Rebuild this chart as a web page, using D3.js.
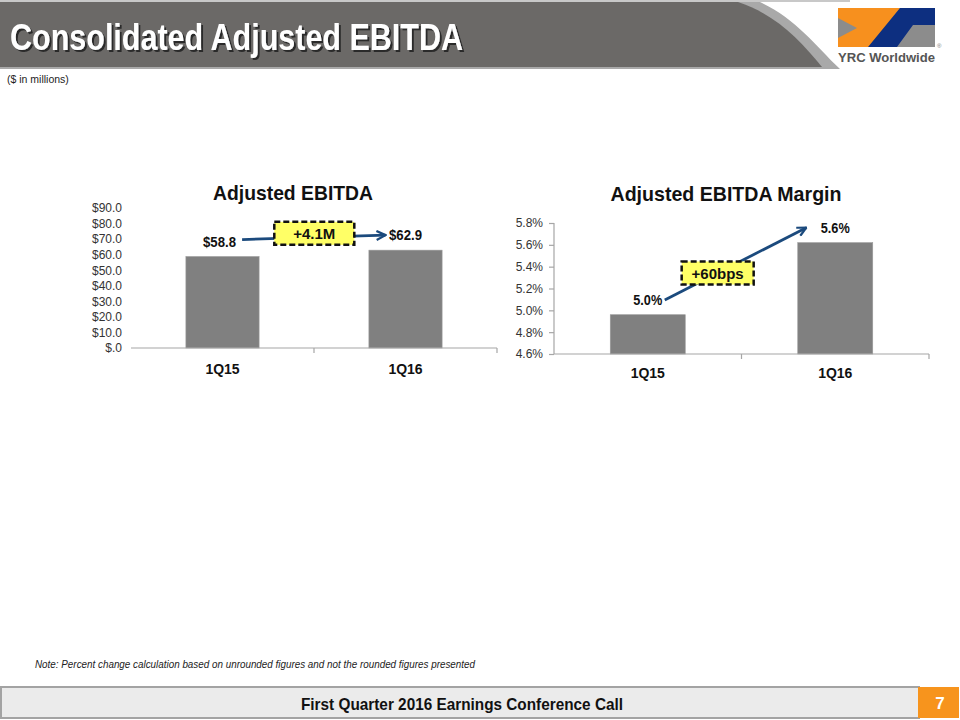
<!DOCTYPE html>
<html><head><meta charset="utf-8">
<script src="https://cdn.jsdelivr.net/npm/d3@7"></script>
<style>
html,body{margin:0;padding:0;background:#fff;}
svg{display:block;font-family:Arial,"Liberation Sans",sans-serif;}
</style></head>
<body>
<svg id="c" width="960" height="720"></svg>
<script>
// ---- data ----
const categories = ["1Q15", "1Q16"];
const ebitdaValues = [58.8, 62.9];
const ebitdaLabels = ["$58.8", "$62.9"];
const ebitdaTicks = [0, 10, 20, 30, 40, 50, 60, 70, 80, 90];
const ebitdaTickLabels = ["$.0", "$10.0", "$20.0", "$30.0", "$40.0", "$50.0", "$60.0", "$70.0", "$80.0", "$90.0"];
const marginValues = [4.96, 5.62];
const marginLabels = ["5.0%", "5.6%"];
const marginTicks = [4.6, 4.8, 5.0, 5.2, 5.4, 5.6, 5.8];
const marginTickLabels = ["4.6%", "4.8%", "5.0%", "5.2%", "5.4%", "5.6%", "5.8%"];
const deltaLabels = ["+4.1M", "+60bps"];
const chartTitles = ["Adjusted EBITDA", "Adjusted EBITDA Margin"];

const svg = d3.select("#c");
const navy = "#1b4a7d";
const defs = svg.append("defs");
const sh = defs.append("filter").attr("id","sh").attr("x","-5%").attr("y","-20%").attr("width","110%").attr("height","150%");
sh.append("feDropShadow").attr("dx",2).attr("dy",2).attr("stdDeviation",0.6).attr("flood-color","#2a2a2a").attr("flood-opacity",1);

// ---- header ----
svg.append("rect").attr("x",0).attr("y",0).attr("width",850).attr("height",2).attr("fill","#c8c8c8");
svg.append("path").attr("d","M0,2 H760 C795,18 815,45 840,69 H0 Z").attr("fill","#a9a9a9");
svg.append("path").attr("d","M0,2 H738 C775,14 800,40 822,67 H0 Z").attr("fill","#6b6967");
svg.append("text").attr("x",10).attr("y",50).attr("fill","#ffffff").attr("filter","url(#sh)")
  .attr("font-size",36).attr("font-weight","bold")
  .attr("textLength",453).attr("lengthAdjust","spacingAndGlyphs").text("Consolidated Adjusted EBITDA");
svg.append("text").attr("x",7).attr("y",83).attr("font-size",10.5).attr("fill","#222")
  .text("($ in millions)");

// logo
const lg = svg.append("g");
lg.append("rect").attr("x",838).attr("y",8).attr("width",97).attr("height",39).attr("fill","#8c8c8c");
lg.append("polygon").attr("points","838,8 900,8 870,47 838,47").attr("fill","#f7901e");
lg.append("polygon").attr("points","838,18 857,28 838,38").attr("fill","#8c8c8c");
lg.append("polygon").attr("points","900,8 935,8 935,25 913,25 897,47 868,47").attr("fill","#0d2f80");
lg.append("text").attr("x",838).attr("y",62).attr("font-size",13.5).attr("font-weight","bold")
  .attr("fill","#555").attr("textLength",97).attr("lengthAdjust","spacingAndGlyphs").text("YRC Worldwide");
lg.append("text").attr("x",937).attr("y",48).attr("font-size",6).attr("fill","#777").text("®");

// ---- arrow marker ----
defs.append("marker").attr("id","ah").attr("viewBox","0 0 10 10").attr("refX",9).attr("refY",5)
  .attr("markerWidth",4).attr("markerHeight",4).attr("orient","auto").attr("markerUnits","strokeWidth")
  .append("path").attr("d","M1,1 L9,5 L1,9").attr("fill","none").attr("stroke",navy).attr("stroke-width",2);

function deltaBox(g, cx, cy, w, h, label){
  g.append("rect").attr("x",cx-w/2).attr("y",cy-h/2).attr("width",w).attr("height",h)
    .attr("fill","#ffff66").attr("stroke","#111").attr("stroke-width",2.5).attr("stroke-dasharray","6,3");
  g.append("text").attr("x",cx).attr("y",cy+6).attr("text-anchor","middle")
    .attr("font-size",15).attr("font-weight","bold").attr("fill","#111").text(label);
}

// ---- left chart ----
{
  const g = svg.append("g");
  const x = d3.scaleBand().domain(categories).range([131,497]).paddingInner(0.6).paddingOuter(0.3);
  const y = d3.scaleLinear().domain([0,90]).range([348,208]);
  g.append("text").attr("x",293).attr("y",200).attr("text-anchor","middle").attr("font-size",21)
    .attr("font-weight","bold").attr("fill","#111").attr("textLength",160).attr("lengthAdjust","spacingAndGlyphs")
    .text(chartTitles[0]);
  const ya = d3.axisLeft(y).tickValues(ebitdaTicks).tickSize(0).tickPadding(6)
    .tickFormat((d,i)=>ebitdaTickLabels[i]);
  const yg = g.append("g").attr("transform","translate(128,0)").call(ya);
  yg.select(".domain").remove();
  yg.selectAll("text").attr("font-size",12).attr("fill","#333").attr("font-family","Arial,'Liberation Sans',sans-serif");
  g.selectAll(".bar").data(categories).enter().append("rect")
    .attr("x",d=>x(d)).attr("width",x.bandwidth())
    .attr("y",(d,i)=>y(ebitdaValues[i])).attr("height",(d,i)=>y(0)-y(ebitdaValues[i]))
    .attr("fill","#808080").attr("stroke","#9a9a9a").attr("stroke-width",0.6);
  const [r0,r1] = x.range();
  const mid = (x(categories[0])+x.bandwidth()+x(categories[1]))/2;
  g.append("line").attr("x1",r0).attr("x2",r1).attr("y1",y(0)).attr("y2",y(0)).attr("stroke","#a6a6a6").attr("stroke-width",1.2);
  [mid, r1].forEach(t=>g.append("line").attr("x1",t).attr("x2",t).attr("y1",y(0)).attr("y2",y(0)+5).attr("stroke","#a6a6a6").attr("stroke-width",1.2));
  g.selectAll(".cat").data(categories).enter().append("text")
    .attr("x",d=>x(d)+x.bandwidth()/2).attr("y",374).attr("text-anchor","middle")
    .attr("font-size",14).attr("font-weight","bold").attr("fill","#111").text(d=>d);
  g.selectAll(".vl").data(categories).enter().append("text")
    .attr("x",(d,i)=>x(d)+x.bandwidth()/2 - (i===0?3:0)).attr("y",(d,i)=>y(ebitdaValues[i])-10).attr("text-anchor","middle")
    .attr("font-size",14).attr("font-weight","bold").attr("fill","#111")
    .attr("textLength",33).attr("lengthAdjust","spacingAndGlyphs").text((d,i)=>ebitdaLabels[i]);
  const x1 = x(categories[0])+x.bandwidth()-17, y1 = y(ebitdaValues[0])-17;
  const x2 = x(categories[1])+x.bandwidth()/2-20, y2 = y(ebitdaValues[1])-15;
  g.append("line").attr("x1",x1).attr("y1",y1).attr("x2",x2).attr("y2",y2)
    .attr("stroke",navy).attr("stroke-width",2.8).attr("marker-end","url(#ah)");
  deltaBox(g, (x1+x2)/2+0.5, (y1+y2)/2-4, 80, 23, deltaLabels[0]);
}

// ---- right chart ----
{
  const g = svg.append("g");
  const x = d3.scaleBand().domain(categories).range([554,929]).paddingInner(0.6).paddingOuter(0.3);
  const y = d3.scaleLinear().domain([4.6,5.8]).range([354,223]);
  g.append("text").attr("x",726).attr("y",201).attr("text-anchor","middle").attr("font-size",21)
    .attr("font-weight","bold").attr("fill","#111").attr("textLength",231).attr("lengthAdjust","spacingAndGlyphs")
    .text(chartTitles[1]);
  const ya = d3.axisLeft(y).tickValues(marginTicks).tickSize(5).tickPadding(6)
    .tickFormat((d,i)=>marginTickLabels[i]);
  const yg = g.append("g").attr("transform","translate(554,0)").call(ya);
  yg.select(".domain").attr("stroke","#a6a6a6").attr("stroke-width",1.2).attr("d","M0,"+y(5.8)+"V"+y(4.6));
  yg.selectAll(".tick line").attr("stroke","#a6a6a6").attr("stroke-width",1.2);
  yg.selectAll("text").attr("font-size",12).attr("fill","#333").attr("font-family","Arial,'Liberation Sans',sans-serif");
  g.selectAll(".bar").data(categories).enter().append("rect")
    .attr("x",d=>x(d)).attr("width",x.bandwidth())
    .attr("y",(d,i)=>y(marginValues[i])).attr("height",(d,i)=>y(4.6)-y(marginValues[i]))
    .attr("fill","#808080").attr("stroke","#9a9a9a").attr("stroke-width",0.6);
  const [r0,r1] = x.range();
  const mid = (x(categories[0])+x.bandwidth()+x(categories[1]))/2;
  g.append("line").attr("x1",r0).attr("x2",r1).attr("y1",y(4.6)).attr("y2",y(4.6)).attr("stroke","#a6a6a6").attr("stroke-width",1.2);
  [mid, r1].forEach(t=>g.append("line").attr("x1",t).attr("x2",t).attr("y1",y(4.6)).attr("y2",y(4.6)+5).attr("stroke","#a6a6a6").attr("stroke-width",1.2));
  g.selectAll(".cat").data(categories).enter().append("text")
    .attr("x",d=>x(d)+x.bandwidth()/2).attr("y",378).attr("text-anchor","middle")
    .attr("font-size",14).attr("font-weight","bold").attr("fill","#111").text(d=>d);
  g.selectAll(".vl").data(categories).enter().append("text")
    .attr("x",d=>x(d)+x.bandwidth()/2).attr("y",(d,i)=>y(marginValues[i])-10).attr("text-anchor","middle")
    .attr("font-size",14).attr("font-weight","bold").attr("fill","#111")
    .attr("textLength",29).attr("lengthAdjust","spacingAndGlyphs").text((d,i)=>marginLabels[i]);
  const x1 = x(categories[0])+x.bandwidth()/2+17, y1 = y(marginValues[0])-14.6;
  const x2 = x(categories[1])+x.bandwidth()/2-29, y2 = y(marginValues[1])-15;
  g.append("line").attr("x1",x1).attr("y1",y1).attr("x2",x2).attr("y2",y2)
    .attr("stroke",navy).attr("stroke-width",2.8).attr("marker-end","url(#ah)");
  const t = 0.374;
  deltaBox(g, x1+(x2-x1)*t, y1+(y2-y1)*t, 72, 23, deltaLabels[1]);
}

// ---- note & footer ----
svg.append("text").attr("x",35).attr("y",668).attr("font-size",11).attr("font-style","italic").attr("fill","#222")
  .attr("textLength",440).attr("lengthAdjust","spacingAndGlyphs")
  .text("Note: Percent change calculation based on unrounded figures and not the rounded figures presented");
svg.append("rect").attr("x",1).attr("y",687).attr("width",918).attr("height",31)
  .attr("fill","#ebebeb").attr("stroke","#a3a3a3").attr("stroke-width",2);
svg.append("rect").attr("x",918).attr("y",687).attr("width",41).attr("height",31).attr("fill","#f7941d");
svg.append("text").attr("x",462).attr("y",710).attr("text-anchor","middle").attr("font-size",17)
  .attr("font-weight","bold").attr("fill","#111").attr("textLength",322).attr("lengthAdjust","spacingAndGlyphs")
  .text("First Quarter 2016 Earnings Conference Call");
svg.append("text").attr("x",940).attr("y",709).attr("text-anchor","middle").attr("font-size",17)
  .attr("font-weight","bold").attr("fill","#fff").text("7");
</script>
</body></html>
